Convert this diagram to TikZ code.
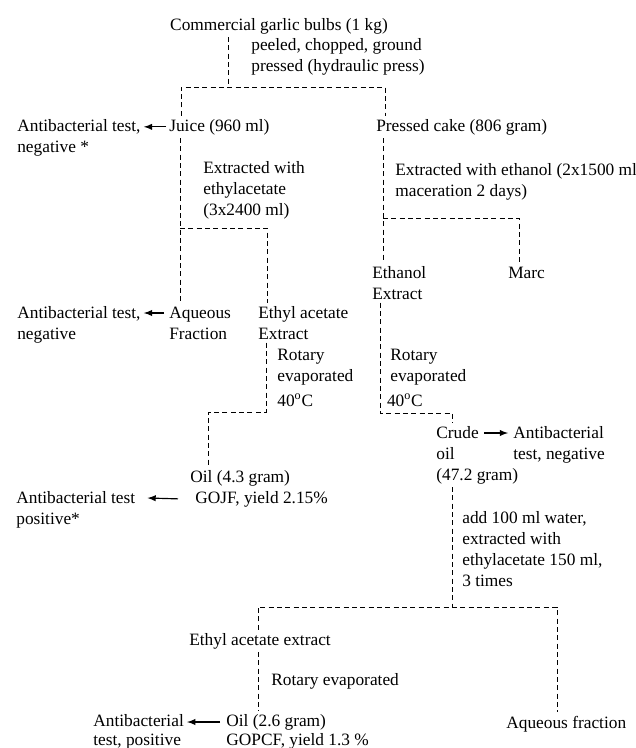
\documentclass[tikz,border=0pt]{standalone}
\usepackage{fontspec}
\setmainfont{Liberation Serif}
\usetikzlibrary{calc}
\tikzset{
	lbl/.style={inner sep=0pt, outer sep=2pt, anchor=base west, align=left, font=\fontsize{10.4}{12.6}\selectfont},
	tight/.style={font=\fontsize{10.4}{11}\selectfont},
	dashline/.style={dash pattern=on 3pt off 2pt, line width=0.55pt},
	testarrow/.style={-latex, line width=0.7pt},
}
\begin{document}
\begin{tikzpicture}[x=0.6pt, y=-0.6pt]
	\useasboundingbox (0,0) rectangle (636,748);
	% juice branch (base = last line)
	\node[lbl, anchor=base] (bulbs) at (279,30) {Commercial garlic bulbs (1 kg)};
	\node[lbl] (prep) at (248,71) {peeled, chopped, ground\\pressed (hydraulic press)};
	\node[lbl] (juice) at (166,131) {Juice (960 ml)};
	\node[lbl] (testA) at (14,152) {Antibacterial test,\\negative *};
	\node[lbl] (cake) at (373,131) {Pressed cake (806 gram)};
	\node[lbl] (extA) at (200,215) {Extracted with\\ethylacetate\\(3x2400 ml)};
	\node[lbl] (extB) at (392,196) {Extracted with ethanol (2x1500 ml,\\maceration 2 days)};
	\node[lbl] (ethX) at (369,299) {Ethanol\\Extract};
	\node[lbl] (marc) at (505,278) {Marc};
	\node[lbl] (aqA) at (166,339) {Aqueous\\Fraction};
	\node[lbl] (testB) at (14,339) {Antibacterial test,\\negative};
	\node[lbl] (eaA) at (255,339) {Ethyl acetate\\Extract};
	\node[lbl] (rotA) at (274,406) {Rotary\\evaporated\\[2pt]40\textsuperscript{o}C};
	\node[lbl] (rotB) at (387,406) {Rotary\\evaporated\\[2pt]\hspace*{-2pt}40\textsuperscript{o}C};
	\node[lbl] (oilA) at (187,482) {Oil (4.3 gram)};
	\node[lbl] (gojf) at (192,503) {GOJF, yield 2.15\%};
	\node[lbl] (testC) at (13,524) {Antibacterial test\\positive*};
	% crude oil branch
	\node[lbl] (crude) at (433,480) {Crude\\oil\\(47.2 gram)};
	\node[lbl] (testD) at (510,459) {Antibacterial\\test, negative};
	\node[lbl] (addW) at (459,586) {add 100 ml water,\\extracted with\\ethylacetate 150 ml,\\3 times};
	\node[lbl, anchor=base] (eaB) at (260,645) {Ethyl acetate extract};
	\node[lbl] (rotC) at (268,685) {Rotary evaporated};
	\node[lbl, tight] (oilB) at (223,745) {Oil (2.6 gram)\\GOPCF, yield 1.3 \%};
	\node[lbl, tight] (testE) at (90,745) {Antibacterial\\test, positive};
	\node[lbl] (aqB) at (503,728) {Aqueous fraction};

	% split points
	\coordinate (s1) at (228,87);
	\coordinate (s1l) at (181,87);
	\coordinate (s1r) at (385,87);
	\coordinate (s2l) at (180,228);
	\coordinate (s2r) at (267,228);
	\coordinate (s3l) at (383,218);
	\coordinate (s3r) at (519,218);
	\coordinate (s4a) at (380,413);
	\coordinate (s4b) at (452,413);
	\coordinate (s5a) at (266,412);
	\coordinate (s5b) at (208,412);
	\coordinate (s6) at (452,607);
	\coordinate (s6l) at (258,607);
	\coordinate (s6r) at (557,607);

	\draw[dashline] (bulbs.south -| s1) -- (s1);
	\draw[dashline] (juice.north -| s1l) -- (s1l) -- (s1r) -- (cake.north -| s1r);
	\draw[dashline] (juice.south -| s2l) -- (aqA.north -| s2l);
	\draw[dashline] (s2l) -- (s2r) -- (eaA.north -| s2r);
	\draw[dashline] (cake.south -| s3l) -- (ethX.north -| s3l);
	\draw[dashline] (s3l) -- (s3r) -- (marc.north -| s3r);
	\draw[dashline] (ethX.south -| s4a) -- (s4a) -- (s4b) -- (crude.north -| s4b);
	\draw[dashline] (eaA.south -| s5a) -- (s5a) -- (s5b) -- (oilA.north -| s5b);
	\draw[dashline] (crude.south -| s6) -- (s6);
	\draw[dashline] (eaB.north -| s6l) -- (s6l) -- (s6r) -- (aqB.north -| s6r);
	\draw[dashline] (eaB.south -| s6l) -- (oilB.north -| s6l);

	% antibacterial tests
	\draw[testarrow] (juice.west) -- (juice.west -| testA.east);
	\draw[testarrow] ($(aqA.base west)+(-2,-26)$) -- ($(testB.base east)+(0,-26)$);
	\draw[testarrow] ($(gojf.west)+(-14,0)$) -- ($(testC.base east)+(9,-26)$);
	\draw[testarrow] ($(crude.base west)+(51,-47)$) -- ($(testD.base west)+(-2,-26)$);
	\draw[testarrow] ($(oilB.base west)+(-3,-23)$) -- ($(testE.base east)+(0,-23)$);
\end{tikzpicture}
\end{document}
